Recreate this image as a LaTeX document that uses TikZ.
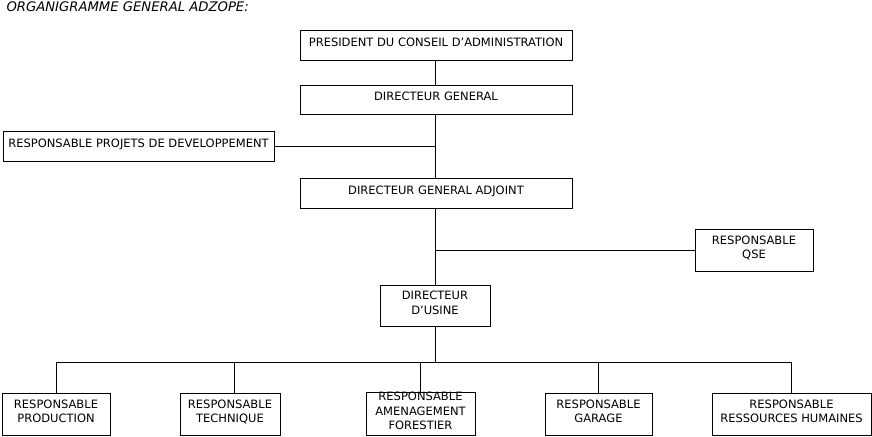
\documentclass[tikz,border=0pt]{standalone}
\usepackage{fontspec}
\setmainfont{DejaVu Sans}
\usepackage{tikz}
\usetikzlibrary{positioning}
\usepackage{xcolor}

\begin{document}
\begin{tikzpicture}[x=1pt,y=-1pt,
  box/.style={draw=black,line width=0.8pt,inner sep=0pt,align=center,text depth=6pt,
    font=\fontsize{11.5}{14.5}\selectfont},
  link/.style={black,line width=0.8pt}]
\useasboundingbox (0,0) rectangle (872,436);
\node [anchor=base west,font=\fontsize{13.2}{15}\selectfont\itshape] (titre) at (3,12) {ORGANIGRAMME GENERAL ADZOPE:};
\node [box,minimum width=272pt,minimum height=30pt] (pdca) at (436,45) {PRESIDENT DU CONSEIL D'ADMINISTRATION};
\node [box,minimum width=272pt,minimum height=29pt] (dg) at (436,99.5) {DIRECTEUR GENERAL};
\node [box,minimum width=271pt,minimum height=30pt] (rpd) at (138.5,146) {RESPONSABLE PROJETS DE DEVELOPPEMENT};
\node [box,minimum width=272pt,minimum height=30pt] (dga) at (436,193) {DIRECTEUR GENERAL ADJOINT};
\node [box,minimum width=118pt,minimum height=42pt] (qse) at (754,250) {RESPONSABLE\\QSE};
\node [box,minimum width=110pt,minimum height=41pt] (du) at (435,305.5) {DIRECTEUR\\D'USINE};
\node [box,minimum width=108pt,minimum height=42pt] (prod) at (56,414) {RESPONSABLE\\PRODUCTION};
\node [box,minimum width=100pt,minimum height=42pt] (tech) at (230,414) {RESPONSABLE\\TECHNIQUE};
\node [box,minimum width=109pt,minimum height=42pt] (amen) at (420.5,414) {RESPONSABLE\\AMENAGEMENT\\FORESTIER};
\node [box,minimum width=107pt,minimum height=42pt] (gar) at (598.5,414) {RESPONSABLE\\GARAGE};
\node [box,minimum width=159pt,minimum height=42pt] (rh) at (791.5,414) {RESPONSABLE\\RESSOURCES HUMAINES};
\coordinate (bus) at (435,362);
\draw [link] (pdca.south -| du.north) -- (dg.north -| du.north);
\draw [link] (dg.south -| du.north) -- (dga.north -| du.north);
\draw [link] (rpd.east) -- (rpd.east -| dg.south);
\draw [link] (dga.south -| du.north) -- (du.north);
\draw [link] (qse.west) -- (qse.west -| du.north);
\draw [link] (du.south) -- (bus);
\draw [link] (prod.north |- bus) -- (rh.north |- bus);
\draw [link] (prod.north) -- (prod.north |- bus);
\draw [link] ([xshift=4pt]tech.north) -- ([xshift=4pt]tech.north |- bus);
\draw [link] (amen.north) -- (amen.north |- bus);
\draw [link] (gar.north) -- (gar.north |- bus);
\draw [link] (rh.north) -- (rh.north |- bus);
\end{tikzpicture}
\end{document}
